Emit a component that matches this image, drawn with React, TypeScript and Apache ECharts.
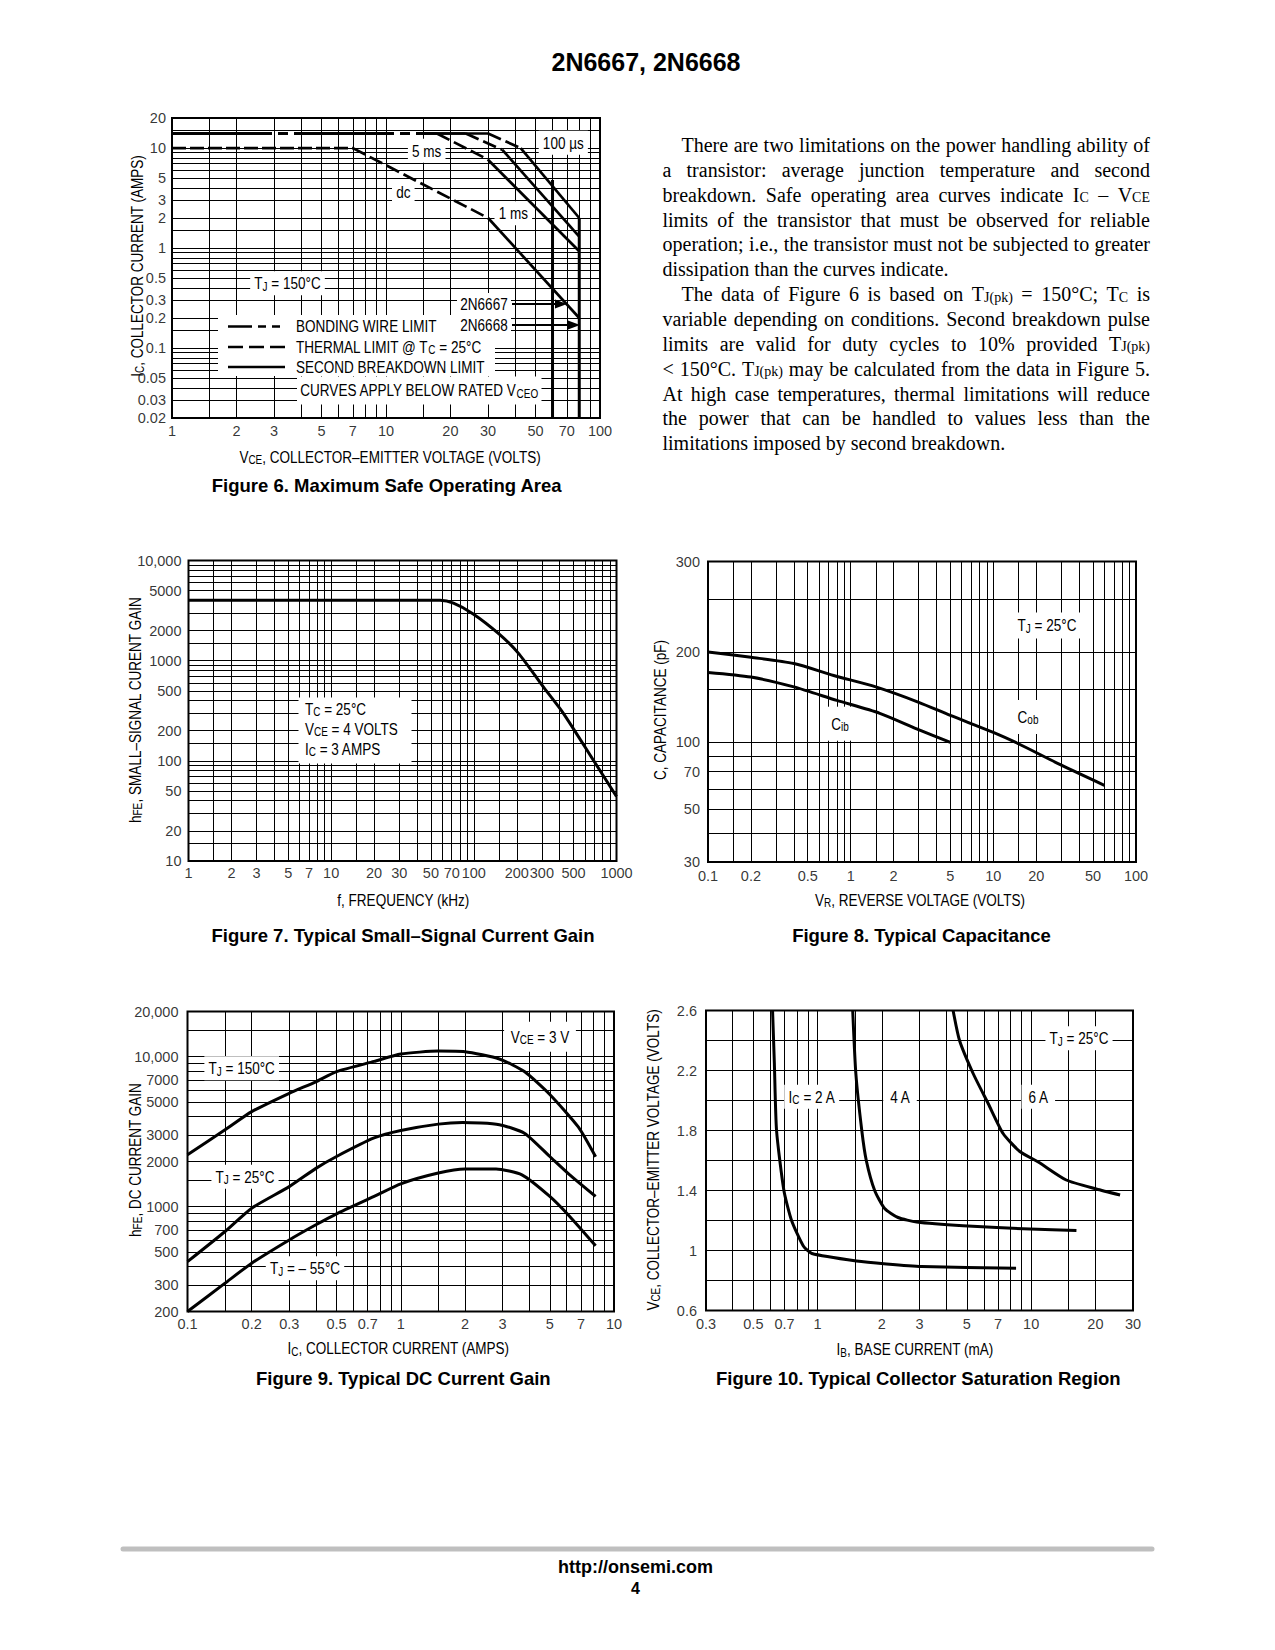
import React, { useEffect, useRef } from 'react';
import * as echarts from 'echarts';

const SANS = '"Liberation Sans", Arial, Helvetica, sans-serif';
const SERIF = '"Liberation Serif", "Times New Roman", serif';
const NARROW_SCALE = 0.83; // emulates the condensed Helvetica used in the datasheet

// ---------------- Figure 6 : Maximum Safe Operating Area [V, A] ----------------
const f6XTicks = [1, 2, 3, 5, 7, 10, 20, 30, 50, 70, 100];
const f6YTicks = [0.02, 0.03, 0.05, 0.1, 0.2, 0.3, 0.5, 1, 2, 3, 5, 10, 20];
const f6Bond100us = [[1, 14], [30, 14]];
const f6Therm100us = [[30, 14], [42.6, 10]];
const f6SB100us = [[42.6, 10], [80, 2]];
const f6Bond1ms = [[1, 14], [23.6, 14]];
const f6Therm1ms = [[23.6, 14], [35, 9.6]];
const f6SB1ms = [[35, 9.6], [80, 1.3]];
const f6Bond5ms = [[1, 14], [17.3, 14]];
const f6Therm5ms = [[17.3, 14], [29.9, 7.7]];
const f6SB5ms = [[29.9, 7.7], [80, 0.93]];
const f6BondDc = [[1, 10], [7, 10]];
const f6ThermDc = [[7, 10], [30, 2]];
const f6SBDc = [[30, 2], [80, 0.2]];
const f6Rated2N6667 = [[60, 0.02], [60, 4.8]];
const f6Rated2N6668 = [[80, 0.02], [80, 2]];

// ---------------- Figure 7 : Small-signal current gain ----------------
const f7XTicks = [1, 2, 3, 5, 7, 10, 20, 30, 50, 70, 100, 200, 300, 500, 1000];
const f7YTicks = [10, 20, 50, 100, 200, 500, 1000, 2000, 5000, 10000];
const f7Freq = [1, 58, 72, 99, 150, 205, 306, 423, 687, 1000];
const f7Gain = [4000, 4000, 3750, 2930, 1850, 1190, 550, 300, 102, 44];

// ---------------- Figure 8 : Capacitance ----------------
// The printed grid is a 40–400 pF log grid; its labels sit where the datasheet prints them.
const f8XTicks = [0.1, 0.2, 0.5, 1, 2, 5, 10, 20, 50, 100];
const f8YTickText = ['30', '50', '70', '100', '200', '300'];
const f8YTickAt = [40, 60, 80, 100, 200, 400];
const f8YGrid = [50, 60, 70, 80, 90, 100, 150, 200, 300];
const f8CobV = [0.1, 0.2, 0.4, 0.76, 1.5, 3, 5, 10, 15, 30, 60];
const f8CobC = [200, 192, 183, 167, 153, 136, 123, 108, 99, 84, 72];
const f8CibV = [0.1, 0.2, 0.4, 0.8, 1.6, 2.9, 5];
const f8CibC = [171, 165, 153, 138, 125, 111, 100];

// ---------------- Figure 9 : DC current gain [A, hFE] ----------------
const f9XTicks = [0.1, 0.2, 0.3, 0.5, 0.7, 1, 2, 3, 5, 7, 10];
const f9YTicks = [200, 300, 500, 700, 1000, 2000, 3000, 5000, 7000, 10000, 20000];
const f9Tj150 = [[0.1, 2220], [0.15, 3250], [0.2, 4300], [0.3, 5700], [0.4, 6800], [0.5, 7950], [0.75, 9300], [1, 10400], [1.5, 10900], [2, 10800], [2.9, 9650], [3.8, 7950], [5, 5600], [6.8, 3400], [8.2, 2150]];
const f9Tj25 = [[0.1, 430], [0.15, 683], [0.2, 977], [0.3, 1360], [0.4, 1800], [0.5, 2160], [0.75, 2870], [1, 3220], [1.5, 3550], [1.95, 3640], [2.9, 3520], [3.8, 3090], [5, 2160], [6.2, 1630], [8.2, 1170]];
const f9TjM55 = [[0.1, 200], [0.15, 309], [0.2, 420], [0.3, 600], [0.4, 757], [0.5, 896], [0.75, 1170], [1, 1420], [1.5, 1675], [2, 1785], [2.8, 1785], [3.7, 1630], [5, 1170], [6.2, 860], [8.2, 548]];

// ---------------- Figure 10 : Collector saturation [mA, V] ----------------
const f10XTicks = [0.3, 0.5, 0.7, 1, 2, 3, 5, 7, 10, 20, 30];
const f10YTicks = [0.6, 1, 1.4, 1.8, 2.2, 2.6];
const f10Ic2A = [[0.615, 2.6], [0.627, 2.25], [0.642, 1.8], [0.695, 1.4], [0.755, 1.2], [0.857, 1.03], [0.94, 0.98], [1.52, 0.93], [2.1, 0.91], [3.07, 0.893], [8.5, 0.882]];
const f10Ic4A = [[1.46, 2.6], [1.51, 2.18], [1.61, 1.8], [1.69, 1.6], [1.85, 1.4], [2.06, 1.28], [2.38, 1.22], [2.91, 1.19], [4.8, 1.165], [9.9, 1.143], [16.3, 1.133]];
const f10Ic6A = [[4.31, 2.6], [4.62, 2.4], [5.35, 2.18], [6.29, 1.98], [7.39, 1.78], [8.85, 1.66], [10.8, 1.59], [14.6, 1.47], [20.2, 1.41], [26.1, 1.37]];

// ---------------- Paragraph ----------------
const PARA = [
  { text: 'There are two limitations on the power handling ability of', indent: true, justify: true },
  { text: 'a transistor: average junction temperature and second', indent: false, justify: true },
  { text: 'breakdown. Safe operating area curves indicate I_{C} – V_{CE}', indent: false, justify: true },
  { text: 'limits of the transistor that must be observed for reliable', indent: false, justify: true },
  { text: 'operation; i.e., the transistor must not be subjected to greater', indent: false, justify: true },
  { text: 'dissipation than the curves indicate.', indent: false, justify: false },
  { text: 'The data of Figure 6 is based on T_{J(pk)} = 150°C; T_{C} is', indent: true, justify: true },
  { text: 'variable depending on conditions. Second breakdown pulse', indent: false, justify: true },
  { text: 'limits are valid for duty cycles to 10% provided T_{J(pk)}', indent: false, justify: true },
  { text: '< 150°C. T_{J(pk)} may be calculated from the data in Figure 5.', indent: false, justify: true },
  { text: 'At high case temperatures, thermal limitations will reduce', indent: false, justify: true },
  { text: 'the power that can be handled to values less than the', indent: false, justify: true },
  { text: 'limitations imposed by second breakdown.', indent: false, justify: false },
];

const GRIDS = [
  { left: 172, top: 118, width: 428, height: 300 },
  { left: 188.5, top: 560.5, width: 428, height: 300.5 },
  { left: 708, top: 561.5, width: 428, height: 300.5 },
  { left: 187.5, top: 1011.5, width: 426.5, height: 300 },
  { left: 706, top: 1010.5, width: 427, height: 300 },
];

const MANT = [1, 1.5, 2, 3, 4, 5, 6, 7, 8, 9];
function logGridValues(min: number, max: number) {
  const out: number[] = [];
  for (let e = Math.floor(Math.log10(min)); e <= Math.ceil(Math.log10(max)); e++) {
    for (const m of MANT) {
      const v = +(m * Math.pow(10, e)).toPrecision(6);
      if (v > min * 1.0001 && v < max * 0.9999) out.push(v);
    }
  }
  return out;
}

const fmtTick = (v: number) => (v >= 10000 ? v.toLocaleString('en-US') : String(v));
const sub = (s: string) => s.replace(/_\{([^}]*)\}/g, '{s|$1}');

function gridLinesSeries(idx: number, xs: number[], ys: number[]) {
  return {
    type: 'line', xAxisIndex: idx, yAxisIndex: idx, data: [], z: 1, silent: true,
    markLine: {
      z: 1, silent: true, symbol: ['none', 'none'], animation: false,
      label: { show: false }, emphasis: { disabled: true },
      lineStyle: { color: '#000', width: 1, type: 'solid', opacity: 1 },
      data: [...xs.map((v) => ({ xAxis: v })), ...ys.map((v) => ({ yAxis: v }))],
    },
  };
}

function curve(idx: number, data: number[][], width = 3, dash: any = 'solid', smooth: any = false) {
  return {
    type: 'line', xAxisIndex: idx, yAxisIndex: idx, data, symbol: 'none', showSymbol: false,
    silent: true, z: 5, smooth,
    lineStyle: { color: '#000', width, type: dash, cap: 'butt', join: 'round' },
  };
}

const TICK_FONT = { color: '#000', fontFamily: SANS, fontSize: 14.5 };
function xLabels(idx: number, ticks: number[], yAt: number, dist: number) {
  return {
    type: 'scatter', xAxisIndex: idx, yAxisIndex: idx, symbolSize: 0, silent: true, z: 6, clip: false,
    itemStyle: { color: 'transparent' },
    label: { show: true, position: 'bottom', distance: dist, formatter: '{b}', ...TICK_FONT },
    data: ticks.map((v) => ({ name: fmtTick(v), value: [v, yAt] })),
  };
}
function yLabels(idx: number, ticks: number[], xAt: number, dist: number, texts?: string[]) {
  return {
    type: 'scatter', xAxisIndex: idx, yAxisIndex: idx, symbolSize: 0, silent: true, z: 6, clip: false,
    itemStyle: { color: 'transparent' },
    label: { show: true, position: 'left', distance: dist, formatter: '{b}', ...TICK_FONT },
    data: ticks.map((v, i) => ({ name: texts ? texts[i] : fmtTick(v), value: [xAt, v] })),
  };
}

const SUBRICH = { s: { fontFamily: SANS, fontSize: 12, lineHeight: 9, verticalAlign: 'bottom', fill: '#000' } };
function txt(x: number, y: number, text: string, extra: any = {}, el: any = {}) {
  return {
    type: 'text', x, y, z: 3, silent: true, scaleX: NARROW_SCALE, ...el,
    style: {
      text: sub(text), fontFamily: SANS, fontSize: 16.3, lineHeight: 18, fill: '#000',
      align: 'center', verticalAlign: 'middle', rich: SUBRICH, ...extra,
    },
  };
}
const BG = (p: number[] = [3, 5]) => ({ backgroundColor: '#fff', padding: p });
function caption(x: number, y: number, text: string) {
  return { type: 'text', x, y, z: 3, silent: true, style: { text, fontFamily: SANS, fontWeight: 'bold', fontSize: 18.5, fill: '#000', align: 'center', verticalAlign: 'middle' } };
}
function hline(x1: number, y: number, x2: number, dash: any, width = 2.5) {
  return { type: 'line', z: 4, silent: true, shape: { x1, y1: y, x2, y2: y }, style: { stroke: '#000', lineWidth: width, lineDash: dash } };
}

function paragraphElements() {
  const els: any[] = [];
  const canvas = document.createElement('canvas');
  const ctx = canvas.getContext('2d')!;
  const measure = (t: string, size: number) => { ctx.font = `${size}px "Liberation Serif"`; return ctx.measureText(t).width; };
  const wordWidth = (w: string) => {
    let total = 0;
    const re = /_\{([^}]*)\}/g;
    let last = 0; let m: RegExpExecArray | null;
    while ((m = re.exec(w))) { total += measure(w.slice(last, m.index), 20) + measure(m[1], 14); last = m.index + m[0].length; }
    total += measure(w.slice(last), 20);
    return total;
  };
  const left = 662.5, right = 1150, indentPx = 19, y0 = 145, pitch = 24.85;
  PARA.forEach((line, i) => {
    const words = line.text.split(' ');
    const widths = words.map(wordWidth);
    const start = left + (line.indent ? indentPx : 0);
    const sum = widths.reduce((a, b) => a + b, 0);
    const gap = line.justify && words.length > 1 ? (right - start - sum) / (words.length - 1) : measure(' ', 20);
    let x = start;
    words.forEach((w, k) => {
      els.push({
        type: 'text', x, y: y0 + i * pitch, z: 3, silent: true,
        style: {
          text: sub(w), fontFamily: SERIF, fontSize: 20, lineHeight: 20, fill: '#000', align: 'left', verticalAlign: 'middle',
          rich: { s: { fontFamily: SERIF, fontSize: 14, lineHeight: 8, verticalAlign: 'bottom', fill: '#000' } },
        },
      });
      x += widths[k] + gap;
    });
  });
  return els;
}

function buildOption() {
  const logAxis = (gridIndex: number, min: number, max: number) => ({
    type: 'log', logBase: 10, gridIndex, min, max,
    axisLine: { show: false }, axisTick: { show: false }, axisLabel: { show: false }, splitLine: { show: false },
  });
  const xAxis = [logAxis(0, 1, 100), logAxis(1, 1, 1000), logAxis(2, 0.1, 100), logAxis(3, 0.1, 10), logAxis(4, 0.3, 30)];
  const yAxis: any[] = [
    logAxis(0, 0.02, 20), logAxis(1, 10, 10000), logAxis(2, 40, 400), logAxis(3, 200, 20000),
    {
      type: 'value', gridIndex: 4, min: 0.6, max: 2.6, interval: 0.2,
      axisLine: { show: false }, axisTick: { show: false }, axisLabel: { show: false },
      splitLine: { show: true, lineStyle: { color: '#000', width: 1 } },
    },
  ];
  const grid = GRIDS.map((g) => ({ ...g, show: true, borderColor: '#000', borderWidth: 2, backgroundColor: 'transparent', containLabel: false }));

  const bondDash = [100, 6, 10, 6];
  const thermDash = [14, 5];
  const series: any[] = [
    gridLinesSeries(0, logGridValues(1, 100), logGridValues(0.02, 20)),
    gridLinesSeries(1, logGridValues(1, 1000), logGridValues(10, 10000)),
    gridLinesSeries(2, logGridValues(0.1, 100), f8YGrid),
    gridLinesSeries(3, logGridValues(0.1, 10), logGridValues(200, 20000)),
    gridLinesSeries(4, logGridValues(0.3, 30), []),
    // fig 6 curves
    curve(0, f6Bond100us, 2.7, bondDash), curve(0, f6Therm100us, 2.7, thermDash), curve(0, f6SB100us, 2.7),
    curve(0, f6Bond1ms, 2.7, bondDash), curve(0, f6Therm1ms, 2.7, thermDash), curve(0, f6SB1ms, 2.7),
    curve(0, f6Bond5ms, 2.7, bondDash), curve(0, f6Therm5ms, 2.7, thermDash), curve(0, f6SB5ms, 2.7),
    curve(0, f6BondDc, 2.7, [14, 4]), curve(0, f6ThermDc, 2.7, thermDash), curve(0, f6SBDc, 2.7),
    curve(0, f6Rated2N6667, 3), curve(0, f6Rated2N6668, 3),
    // fig 7
    curve(1, f7Freq.map((f, i) => [f, f7Gain[i]]), 3, 'solid', 0.25),
    // fig 8
    curve(2, f8CobV.map((v, i) => [v, f8CobC[i]]), 3, 'solid', 0.25),
    curve(2, f8CibV.map((v, i) => [v, f8CibC[i]]), 3, 'solid', 0.25),
    // fig 9
    curve(3, f9Tj150, 3, 'solid', 0.2), curve(3, f9Tj25, 3, 'solid', 0.2), curve(3, f9TjM55, 3, 'solid', 0.2),
    // fig 10
    curve(4, f10Ic2A, 3, 'solid', 0.2), curve(4, f10Ic4A, 3, 'solid', 0.2), curve(4, f10Ic6A, 3, 'solid', 0.2),
    // tick labels
    xLabels(0, f6XTicks, 0.02, 5), yLabels(0, f6YTicks, 1, 6),
    xLabels(1, f7XTicks, 10, 4), yLabels(1, f7YTicks, 1, 7),
    xLabels(2, f8XTicks, 40, 6), yLabels(2, f8YTickAt, 0.1, 8, f8YTickText),
    xLabels(3, f9XTicks, 200, 4.5), yLabels(3, f9YTicks, 0.1, 9),
    xLabels(4, f10XTicks, 0.6, 6), yLabels(4, f10YTicks, 0.3, 9),
  ];

  const R = Math.PI / 2;
  const graphics: any[] = [
    { type: 'text', x: 646, y: 62, z: 3, style: { text: '2N6667, 2N6668', fontFamily: SANS, fontWeight: 'bold', fontSize: 25, fill: '#000', align: 'center', verticalAlign: 'middle' } },
    ...paragraphElements(),
    // ---- Fig 6 annotations
    txt(563.3, 142.7, '100 µs', BG()),
    txt(426.7, 150.7, '5 ms', BG()),
    txt(403.3, 191.7, 'dc', BG()),
    txt(513.3, 213.3, '1 ms', BG()),
    txt(287.5, 283.3, 'T_{J} = 150°C', BG()),
    { type: 'rect', z: 3, silent: true, shape: { x: 218, y: 315, width: 277, height: 61 }, style: { fill: '#fff' } },
    txt(484, 304, '2N6667', BG([2, 4]), { z: 4 }),
    txt(484, 325, '2N6668', BG([2, 4]), { z: 4 }),
    hline(228, 326.5, 285, [24, 6, 8, 6, 8, 5]),
    hline(228, 347, 285, [15, 6]),
    hline(228, 367, 285, null),
    txt(296, 326.5, 'BONDING WIRE LIMIT', { align: 'left' }, { z: 4 }),
    txt(296, 347, 'THERMAL LIMIT @ T_{C} = 25°C', { align: 'left' }, { z: 4 }),
    txt(296, 367, 'SECOND BREAKDOWN LIMIT', { align: 'left' }, { z: 4 }),
    txt(297, 390.5, 'CURVES APPLY BELOW RATED V_{CEO}', { align: 'left', ...BG([5, 4]) }),
    { type: 'line', z: 6, silent: true, shape: { x1: 512, y1: 304, x2: 558, y2: 304 }, style: { stroke: '#000', lineWidth: 2 } },
    { type: 'polygon', z: 6, silent: true, shape: { points: [[555, 299.5], [567, 304], [555, 308.5]] }, style: { fill: '#000' } },
    { type: 'line', z: 6, silent: true, shape: { x1: 512, y1: 325, x2: 571, y2: 325 }, style: { stroke: '#000', lineWidth: 2 } },
    { type: 'polygon', z: 6, silent: true, shape: { points: [[568, 320.5], [580, 325], [568, 329.5]] }, style: { fill: '#000' } },
    txt(137, 266, 'I_{C}, COLLECTOR CURRENT (AMPS)', {}, { rotation: R }),
    txt(390, 456.7, 'V_{CE}, COLLECTOR–EMITTER VOLTAGE (VOLTS)'),
    caption(386.7, 485, 'Figure 6. Maximum Safe Operating Area'),
    // ---- Fig 7
    { type: 'rect', z: 3, silent: true, shape: { x: 298.5, y: 697.5, width: 113, height: 66 }, style: { fill: '#fff' } },
    txt(305, 708.7, 'T_{C} = 25°C', { align: 'left' }, { z: 4 }),
    txt(305, 728.7, 'V_{CE} = 4 VOLTS', { align: 'left' }, { z: 4 }),
    txt(305, 748.7, 'I_{C} = 3 AMPS', { align: 'left' }, { z: 4 }),
    txt(135, 710, 'h_{FE}, SMALL–SIGNAL CURENT GAIN', {}, { rotation: R }),
    txt(403.3, 900, 'f, FREQUENCY (kHz)'),
    caption(403, 935.3, 'Figure 7. Typical Small–Signal Current Gain'),
    // ---- Fig 8
    txt(1047, 625.5, 'T_{J} = 25°C', BG([4, 6])),
    txt(840, 723.7, 'C_{ib}', BG([8, 4])),
    txt(1028, 717, 'C_{ob}', BG([8, 4])),
    txt(660, 710, 'C, CAPACITANCE (pF)', {}, { rotation: R }),
    txt(920, 900, 'V_{R}, REVERSE VOLTAGE (VOLTS)'),
    caption(921.5, 935.3, 'Figure 8. Typical Capacitance'),
    // ---- Fig 9
    txt(540, 1036.7, 'V_{CE} = 3 V', BG([6, 8])),
    txt(241.7, 1068.3, 'T_{J} = 150°C', BG()),
    txt(245, 1176.7, 'T_{J} = 25°C', BG()),
    txt(305, 1268.3, 'T_{J} = – 55°C', BG()),
    txt(135, 1160, 'h_{FE}, DC CURRENT GAIN', {}, { rotation: R }),
    txt(398.3, 1348.3, 'I_{C}, COLLECTOR CURRENT (AMPS)'),
    caption(403.3, 1378.3, 'Figure 9. Typical DC Current Gain'),
    // ---- Fig 10
    txt(1079, 1038.3, 'T_{J} = 25°C', BG()),
    txt(811.7, 1096.7, 'I_{C} = 2 A', BG()),
    txt(900, 1096.7, '4 A', BG([3, 8])),
    txt(1038.3, 1096.7, '6 A', BG([3, 8])),
    txt(653, 1160, 'V_{CE}, COLLECTOR–EMITTER VOLTAGE (VOLTS)', {}, { rotation: R }),
    txt(915, 1349.3, 'I_{B}, BASE CURRENT (mA)'),
    caption(918.3, 1378.3, 'Figure 10. Typical Collector Saturation Region'),
    // ---- footer
    { type: 'line', z: 3, silent: true, shape: { x1: 123, y1: 1549, x2: 1152, y2: 1549 }, style: { stroke: '#bfbfbf', lineWidth: 5, lineCap: 'round' } },
    { type: 'text', x: 635.5, y: 1566.5, z: 3, style: { text: 'http://onsemi.com', fontFamily: SANS, fontWeight: 'bold', fontSize: 18, fill: '#000', align: 'center', verticalAlign: 'middle' } },
    { type: 'text', x: 635.5, y: 1588, z: 3, style: { text: '4', fontFamily: SANS, fontWeight: 'bold', fontSize: 16, fill: '#000', align: 'center', verticalAlign: 'middle' } },
  ];

  return {
    animation: false,
    backgroundColor: '#fff',
    textStyle: { fontFamily: SANS },
    grid, xAxis, yAxis, series,
    graphic: { elements: graphics },
  };
}

export default function App() {
  const ref = useRef<HTMLDivElement>(null);
  useEffect(() => {
    const chart = echarts.init(ref.current!, undefined, { renderer: 'svg', width: 1275, height: 1650 });
    chart.setOption(buildOption() as any);
    return () => chart.dispose();
  }, []);
  return <div ref={ref} style={{ position: 'absolute', left: 0, top: 0, width: 1275, height: 1650, background: '#fff' }} />;
}
